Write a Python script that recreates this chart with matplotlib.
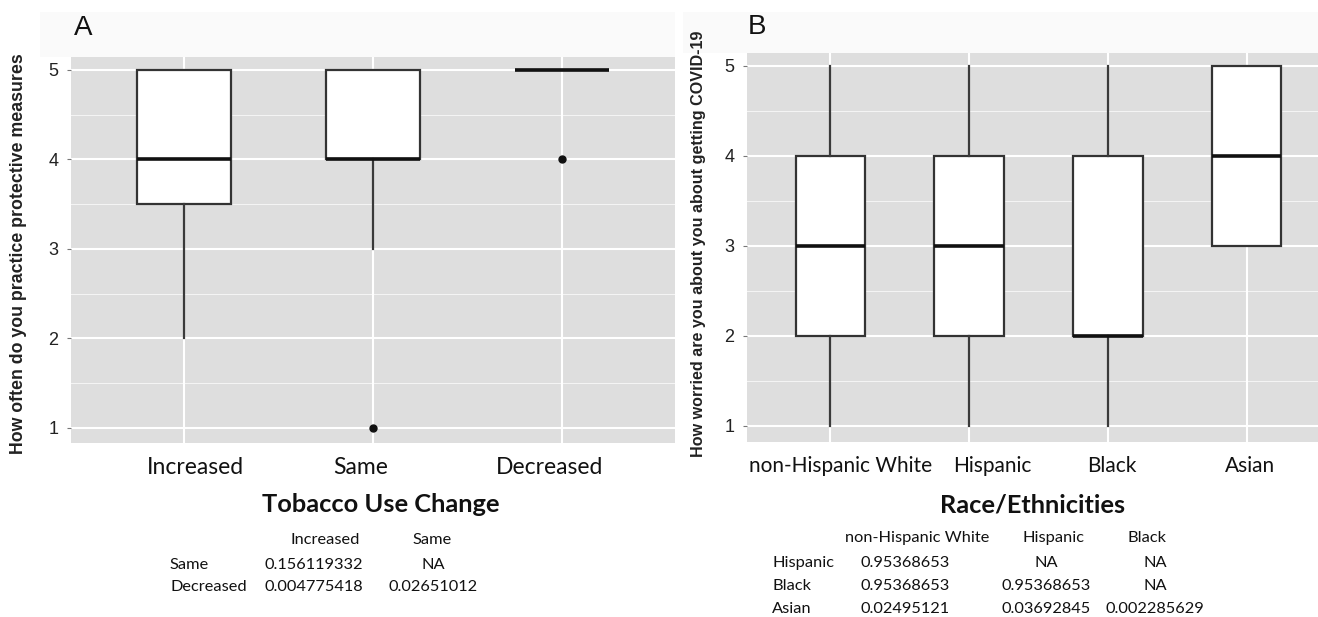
import numpy as np
import matplotlib
matplotlib.use('Agg')
import matplotlib.pyplot as plt
from matplotlib.patches import Rectangle
from matplotlib.transforms import ScaledTranslation

# panel A: tobacco use change vs protective measures
cats_a = ['Increased', 'Same', 'Decreased']
q1_a = [3.5, 4, 5]
med_a = [4, 4, 5]
q3_a = [5, 5, 5]
lo_a = [2, 3, 5]
hi_a = [5, 5, 5]
fliers_a = [[], [1], [4]]

# panel B: race/ethnicity vs worry about covid
cats_b = ['non-Hispanic White', 'Hispanic', 'Black', 'Asian']
q1_b = [2, 2, 2, 3]
med_b = [3, 3, 2, 4]
q3_b = [4, 4, 4, 5]
lo_b = [1, 1, 1, 3]
hi_b = [5, 5, 5, 5]
fliers_b = [[], [], [], []]

# pairwise p-value tables
tab_a_cols = ['Increased', 'Same']
tab_a_rows = ['Same', 'Decreased']
tab_a_vals = [['0.156119332', 'NA'],
              ['0.004775418', '0.02651012']]

tab_b_cols = ['non-Hispanic White', 'Hispanic', 'Black']
tab_b_rows = ['Hispanic', 'Black', 'Asian']
tab_b_vals = [['0.95368653', 'NA', 'NA'],
              ['0.95368653', '0.95368653', 'NA'],
              ['0.02495121', '0.03692845', '0.002285629']]

W, H = 1318, 617
SANS = ['Liberation Sans', 'DejaVu Sans']
CAL = ['Lato', 'DejaVu Sans']


def fx(x):
    return x / W


def fy(y):
    return 1 - y / H


def stats(q1, med, q3, lo, hi, fl):
    return [dict(q1=a, med=b, q3=c, whislo=d, whishi=e, fliers=f)
            for a, b, c, d, e, f in zip(q1, med, q3, lo, hi, fl)]


def draw_panel(ax, st, cats, ylim, xsize, shifts):
    n = len(cats)
    ax.set_facecolor('#dedede')
    ax.bxp(st, positions=np.arange(1, n + 1), widths=0.5, patch_artist=True,
           showcaps=False,
           boxprops=dict(facecolor='white', edgecolor='#333333', linewidth=1.6),
           medianprops=dict(color='#111111', linewidth=2.6),
           whiskerprops=dict(color='#3a3a3a', linewidth=1.6),
           flierprops=dict(marker='o', markerfacecolor='#111111', markeredgecolor='#111111',
                           markersize=5))
    ax.set_xlim(0.4, n + 0.6)
    ax.set_ylim(*ylim)
    ax.set_yticks([1, 2, 3, 4, 5])
    ax.set_yticks([1.5, 2.5, 3.5, 4.5], minor=True)
    ax.set_xticks(np.arange(1, n + 1))
    ax.set_xticklabels(cats, family=CAL, fontsize=xsize, color='#111111')
    ax.grid(True, which='major', color='white', linewidth=1.5)
    ax.grid(True, which='minor', axis='y', color='white', linewidth=0.7, alpha=0.7)
    ax.set_axisbelow(True)
    for s in ax.spines.values():
        s.set_visible(False)
    ax.tick_params(axis='x', length=0, pad=10)
    ax.tick_params(axis='y', which='major', length=3, width=0.8, color='#777777',
                   pad=6, labelsize=13, labelcolor='#222222')
    ax.tick_params(axis='y', which='minor', length=0)
    for t in ax.get_yticklabels():
        t.set_family(SANS)
    # the pasted labels sit slightly off their categories
    for t, dx in zip(ax.get_xticklabels(), shifts):
        t.set_transform(t.get_transform() + ScaledTranslation(dx / 100, 0, fig.dpi_scale_trans))


fig = plt.figure(figsize=(W / 100, H / 100), dpi=100)
fig.patch.set_facecolor('white')

# faint title bands from the pasted panels
fig.add_artist(Rectangle((fx(40), fy(57)), fx(635), 45 / H, transform=fig.transFigure,
                         facecolor='#fafafa', edgecolor='none', zorder=0))
fig.add_artist(Rectangle((fx(683), fy(53)), fx(635), 41 / H, transform=fig.transFigure,
                         facecolor='#fafafa', edgecolor='none', zorder=0))

ax_a = fig.add_axes([fx(71), fy(443), fx(675 - 71), (443 - 57) / H])
draw_panel(ax_a, stats(q1_a, med_a, q3_a, lo_a, hi_a, fliers_a), cats_a, (0.832, 5.145),
           16.5, [11, -12, -12])

ax_b = fig.add_axes([fx(747), fy(442), fx(1330 - 747), (442 - 53) / H])
draw_panel(ax_b, stats(q1_b, med_b, q3_b, lo_b, hi_b, fliers_b), cats_b, (0.822, 5.144),
           15, [10, 23, 4, 3])

# panel letters
fig.text(fx(74), fy(28), 'A', family=SANS, fontsize=20, color='#111111', va='center', ha='left')
fig.text(fx(748), fy(27), 'B', family=SANS, fontsize=20, color='#111111', va='center', ha='left')

# y labels
fig.text(fx(19), fy(254), 'How often do you practice protective measures', family=SANS,
         fontsize=12.8, fontweight='bold', color='#222222', rotation=90, va='center', ha='center')
fig.text(fx(698), fy(244), 'How worried are you about you about getting COVID-19', family=SANS,
         fontsize=11.6, fontweight='bold', color='#222222', rotation=90, va='center', ha='center')

# x labels
fig.text(fx(381), fy(504), 'Tobacco Use Change', family=CAL, fontsize=18.3, fontweight='bold',
         color='#111111', ha='center', va='center')
fig.text(fx(1033), fy(505), 'Race/Ethnicities', family=CAL, fontsize=18.3, fontweight='bold',
         color='#111111', ha='center', va='center')

TS = 11.8

# table A
hdr_a_x = [325, 432]
val_a_x = [314, 433]
row_a_y = [565, 587]
for j, c in enumerate(tab_a_cols):
    fig.text(fx(hdr_a_x[j]), fy(540), c, family=CAL, fontsize=TS, color='#111111',
             ha='center', va='center')
for i, r in enumerate(tab_a_rows):
    fig.text(fx(170), fy(row_a_y[i]), r, family=CAL, fontsize=TS, color='#111111',
             ha='left', va='center')
    for j, v in enumerate(tab_a_vals[i]):
        fig.text(fx(val_a_x[j]), fy(row_a_y[i]), v, family=CAL, fontsize=TS, color='#111111',
                 ha='center', va='center')

# table B
hdr_b_x = [917, 1053, 1147]
val_b_x = [905, 1046, 1155]
row_b_y = [563, 586, 609]
for j, c in enumerate(tab_b_cols):
    fig.text(fx(hdr_b_x[j]), fy(538), c, family=CAL, fontsize=TS, color='#111111',
             ha='center', va='center')
for i, r in enumerate(tab_b_rows):
    fig.text(fx(772), fy(row_b_y[i]), r, family=CAL, fontsize=TS, color='#111111',
             ha='left', va='center')
    for j, v in enumerate(tab_b_vals[i]):
        fig.text(fx(val_b_x[j]), fy(row_b_y[i]), v, family=CAL, fontsize=TS, color='#111111',
                 ha='center', va='center')

fig.savefig('out.png', dpi=100, facecolor='white')
